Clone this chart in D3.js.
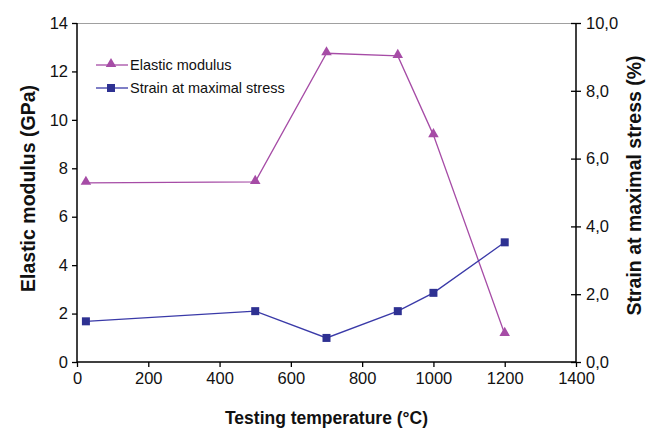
<!DOCTYPE html>
<html><head><meta charset="utf-8">
<script src="https://cdn.jsdelivr.net/npm/d3@7"></script>
<style>body{margin:0;background:#fff}svg{display:block;font-family:"Liberation Sans",Arial,sans-serif}</style>
</head><body><svg id="c" width="649" height="430"></svg>
<script>
const temps = [25, 500, 700, 900, 1000, 1200];
const modulus = [7.40, 7.44, 12.75, 12.64, 9.37, 1.16];
const strain = [1.20, 1.50, 0.71, 1.50, 2.04, 3.53];
const xTicks = [0,200,400,600,800,1000,1200,1400];
const yLeftTicks = [0,2,4,6,8,10,12,14];
const yRightTicks = [0,2,4,6,8,10];
const names = ["Elastic modulus","Strain at maximal stress"];
const cMod = "#a64ca6", cStr = "#2e3192", cStrLine = "#3a3aa8";

const svg = d3.select("#c");
const L=77, R=576, T=23, B=362;
const x = d3.scaleLinear().domain([0,1400]).range([L,R]);
const yl = d3.scaleLinear().domain([0,14]).range([B,T]);
const yr = d3.scaleLinear().domain([0,10]).range([B,T]);

svg.append("line").attr("x1",L).attr("x2",R).attr("y1",T+0.5).attr("y2",T+0.5).attr("stroke","#a0a0a0").attr("stroke-width",1);

const gx = svg.append("g").attr("transform",`translate(0,${B})`)
  .call(d3.axisBottom(x).tickValues(xTicks).tickSize(5).tickPadding(5).tickFormat(d3.format("d")));
const gl = svg.append("g").attr("transform",`translate(${L},0)`)
  .call(d3.axisLeft(yl).tickValues(yLeftTicks).tickSize(5).tickPadding(4).tickFormat(d3.format("d")));
const gr = svg.append("g").attr("transform",`translate(${R},0)`)
  .call(d3.axisRight(yr).tickValues(yRightTicks).tickSize(5).tickPadding(5).tickFormat(d=>d.toFixed(1).replace(".",",")));
gr.selectAll(".tick line").attr("x1",-5);
[gx,gl,gr].forEach(g=>{
  g.select(".domain").attr("stroke","#000").attr("stroke-width",1.5);
  g.selectAll(".tick line").attr("stroke","#000").attr("stroke-width",1.3);
  g.selectAll("text").attr("font-size",16.5).attr("fill","#111").attr("font-family","Liberation Sans, Arial, sans-serif");
});
gx.select(".domain").attr("d",`M${L},0H${R}`);
gl.select(".domain").attr("d",`M0,${T}V${B}`);
gr.select(".domain").attr("d",`M0,${T}V${B}`);

const lineL = d3.line().x(d=>x(d[0])).y(d=>yl(d[1]));
const lineR = d3.line().x(d=>x(d[0])).y(d=>yr(d[1]));
const dm = temps.map((t,i)=>[t,modulus[i]]);
const ds = temps.map((t,i)=>[t,strain[i]]);
svg.append("path").datum(dm).attr("d",lineL).attr("fill","none").attr("stroke",cMod).attr("stroke-width",1.3);
svg.append("path").datum(ds).attr("d",lineR).attr("fill","none").attr("stroke",cStrLine).attr("stroke-width",1.3);
const tri = d3.symbol().type(d3.symbolTriangle).size(48);
svg.selectAll(".tm").data(dm).join("path").attr("d",tri)
  .attr("transform",d=>`translate(${x(d[0])},${yl(d[1])-1})`).attr("fill",cMod);
svg.selectAll(".sm").data(ds).join("rect")
  .attr("x",d=>x(d[0])-4).attr("y",d=>yr(d[1])-4).attr("width",8).attr("height",8).attr("fill",cStr);

const lg = svg.append("g");
[0,1].forEach(i=>{
  const yy = 65 + i*23;
  lg.append("line").attr("x1",96).attr("x2",128).attr("y1",yy).attr("y2",yy).attr("stroke",i?cStrLine:cMod).attr("stroke-width",1.3);
  if(i===0) lg.append("path").attr("d",tri).attr("transform",`translate(111,${yy-1})`).attr("fill",cMod);
  else lg.append("rect").attr("x",107).attr("y",yy-4).attr("width",8).attr("height",8).attr("fill",cStr);
  lg.append("text").attr("x",130).attr("y",yy+5).attr("font-size",14.5).attr("fill","#111").text(names[i]);
});

svg.append("text").attr("x",(L+R)/2).attr("y",424).attr("text-anchor","middle")
  .attr("font-size",17.5).attr("font-weight","bold").attr("fill","#111").text("Testing temperature (°C)");
svg.append("text").attr("transform",`translate(35,${(T+B)/2-4}) rotate(-90)`).attr("text-anchor","middle")
  .attr("font-size",19.5).attr("font-weight","bold").attr("fill","#111").text("Elastic modulus (GPa)");
svg.append("text").attr("transform",`translate(641,${(T+B)/2-7}) rotate(-90)`).attr("text-anchor","middle")
  .attr("font-size",19.5).attr("font-weight","bold").attr("fill","#111").text("Strain at maximal stress (%)");
</script></body></html>
